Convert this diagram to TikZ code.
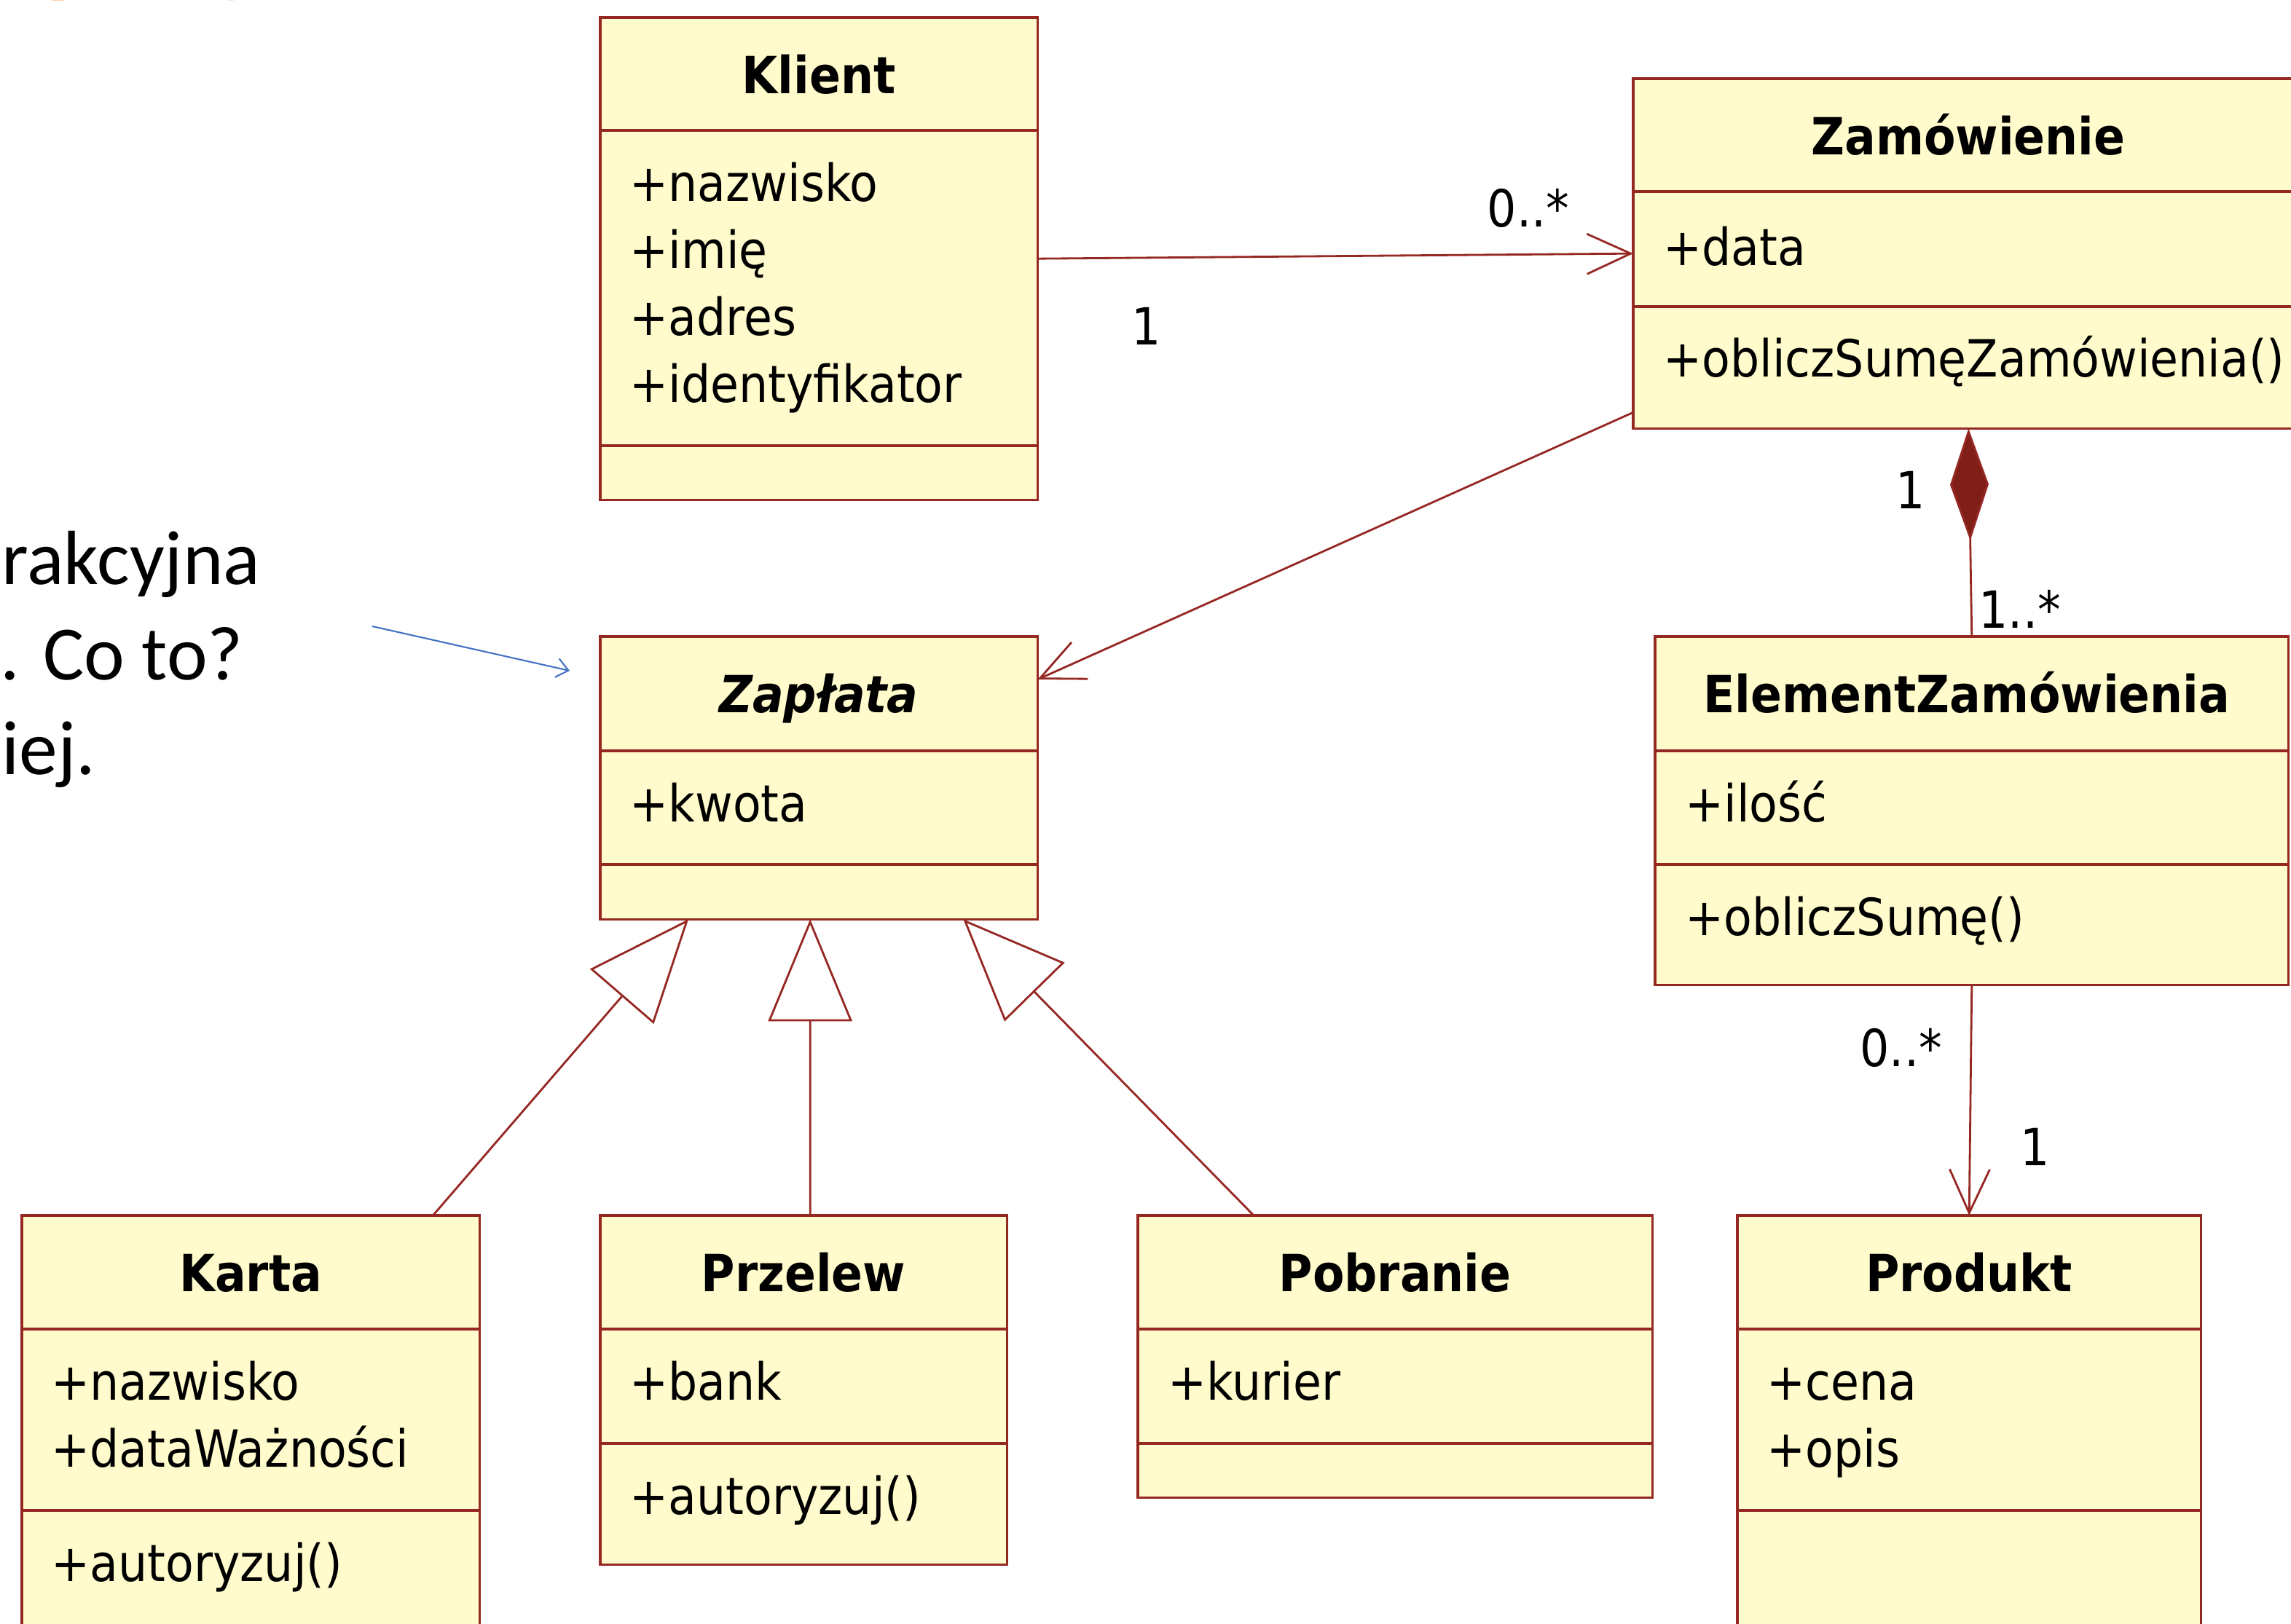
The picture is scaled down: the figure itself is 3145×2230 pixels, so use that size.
\documentclass[tikz,border=0pt]{standalone}
\usepackage{fontspec}
\usetikzlibrary{arrows.meta}
\newfontfamily\umlfont[FakeStretch=0.9]{DejaVu Sans}
\newfontfamily\slajdfont{Carlito}
\definecolor{umlred}{RGB}{150,40,35}
\definecolor{umlfill}{RGB}{255,251,204}
\definecolor{diamred}{RGB}{128,30,24}
\definecolor{slajdblue}{RGB}{68,114,196}
\definecolor{slajdorange}{RGB}{228,108,10}

\begin{document}
\begin{tikzpicture}[x=0.01cm, y=-0.01cm,
    klasa/.style={draw=umlred, fill=umlfill, line width=0.9pt, anchor=north west, inner sep=0pt, outer sep=0pt},
    ramka/.style={draw=umlred, line width=0.9pt},
    tytul/.style={font=\umlfont\bfseries\fontsize{20}{24}\selectfont, anchor=base, inner sep=0pt},
    pole/.style={font=\umlfont\fontsize{20}{24}\selectfont, anchor=base west, inner sep=0pt},
    krotnosc/.style={font=\umlfont\fontsize{20}{24}\selectfont, anchor=base, inner sep=0pt},
    slajd/.style={font=\slajdfont\fontsize{30}{36}\selectfont, anchor=base west, inner sep=0pt},
    naglowek/.style={font=\slajdfont\bfseries\fontsize{44}{50}\selectfont, text=slajdorange, anchor=base west, inner sep=0pt},
    asoc/.style={draw=umlred, line width=0.8pt},
    nav/.style={asoc, -{Straight Barb[length=0.6cm, width=0.55cm]}},
    gen/.style={asoc, -{Triangle[open, length=1.4cm, width=1.15cm]}},
    kompoz/.style={asoc, -{Diamond[length=1.54cm, width=0.53cm, fill=diamred]}}]
      \useasboundingbox (0,0) rectangle (3145,2230);
      \clip (0,0) rectangle (3145,2230);
      \fill[white] (0,0) rectangle (3145,2230);
      % Slide text cut at the borders
      \node[naglowek] (tyt1) at (57,-23) {y};
      \node[naglowek] (tyt2) at (282,-25) {g};
      \node[slajd] (opis1) at (2,802) {rakcyjna};
      \node[slajd] (opis2) at (0,933) {. Co to?};
      \node[slajd] (opis3) at (2,1063) {iej.};
      \coordinate (notkaA) at (511,860);
      \coordinate (notkaB) at (782,921);
      \draw[slajdblue, line width=0.6pt, -{Straight Barb[length=1.6mm, width=2.6mm]}] (notkaA) -- (notkaB);
      % Klient
      \node[klasa, minimum width=6cm, minimum height=6.62cm] (klient) at (824,24) {};
      \draw[ramka] (klient.west |- 0,179) -- (klient.east |- 0,179);
      \draw[ramka] (klient.west |- 0,612) -- (klient.east |- 0,612);
      \node[tytul] (klientT) at (1124,128) {Klient};
      \node[pole] (klientA1) at (864,276) {+nazwisko};
      \node[pole] (klientA2) at (864,368) {+imię};
      \node[pole] (klientA3) at (864,460) {+adres};
      \node[pole] (klientA4) at (864,552) {+identyfikator};
      % Zamowienie
      \node[klasa, minimum width=9.2cm, minimum height=4.8cm] (zam) at (2242,108) {};
      \draw[ramka] (zam.west |- 0,263) -- (zam.east |- 0,263);
      \draw[ramka] (zam.west |- 0,421) -- (zam.east |- 0,421);
      \node[tytul] (zamT) at (2702,212) {Zamówienie};
      \node[pole] (zamA1) at (2283,364) {+data};
      \node[pole] (zamO1) at (2283,517) {+obliczSumęZamówienia()};
      % ElementZamowienia
      \node[klasa, minimum width=8.69cm, minimum height=4.78cm] (elem) at (2272,874) {};
      \draw[ramka] (elem.west |- 0,1031) -- (elem.east |- 0,1031);
      \draw[ramka] (elem.west |- 0,1187) -- (elem.east |- 0,1187);
      \node[tytul] (elemT) at (2700,978) {ElementZamówienia};
      \node[pole] (elemA1) at (2313,1128) {+ilość};
      \node[pole] (elemO1) at (2313,1284) {+obliczSumę()};
      % Zaplata (abstract)
      \node[klasa, minimum width=6cm, minimum height=3.88cm] (zaplata) at (824,874) {};
      \draw[ramka] (zaplata.west |- 0,1031) -- (zaplata.east |- 0,1031);
      \draw[ramka] (zaplata.west |- 0,1187) -- (zaplata.east |- 0,1187);
      \node[tytul, font=\umlfont\bfseries\itshape\fontsize{20}{24}\selectfont] (zaplataT) at (1124,978) {Zapłata};
      \node[pole] (zaplataA1) at (864,1128) {+kwota};
      % Karta
      \node[klasa, minimum width=6.28cm, minimum height=6cm] (karta) at (30,1669) {};
      \draw[ramka] (karta.west |- 0,1825) -- (karta.east |- 0,1825);
      \draw[ramka] (karta.west |- 0,2074) -- (karta.east |- 0,2074);
      \node[tytul] (kartaT) at (344,1773) {Karta};
      \node[pole] (kartaA1) at (70,1922) {+nazwisko};
      \node[pole] (kartaA2) at (70,2014) {+dataWażności};
      \node[pole] (kartaO1) at (70,2171) {+autoryzuj()};
      % Przelew
      \node[klasa, minimum width=5.58cm, minimum height=4.79cm] (przelew) at (824,1669) {};
      \draw[ramka] (przelew.west |- 0,1825) -- (przelew.east |- 0,1825);
      \draw[ramka] (przelew.west |- 0,1982) -- (przelew.east |- 0,1982);
      \node[tytul] (przelewT) at (1103,1773) {Przelew};
      \node[pole] (przelewA1) at (864,1922) {+bank};
      \node[pole] (przelewO1) at (864,2079) {+autoryzuj()};
      % Pobranie
      \node[klasa, minimum width=7.06cm, minimum height=3.87cm] (pobranie) at (1562,1669) {};
      \draw[ramka] (pobranie.west |- 0,1825) -- (pobranie.east |- 0,1825);
      \draw[ramka] (pobranie.west |- 0,1982) -- (pobranie.east |- 0,1982);
      \node[tytul] (pobranieT) at (1915,1773) {Pobranie};
      \node[pole] (pobranieA1) at (1603,1922) {+kurier};
      % Produkt
      \node[klasa, minimum width=6.36cm, minimum height=6cm] (produkt) at (2385,1669) {};
      \draw[ramka] (produkt.west |- 0,1825) -- (produkt.east |- 0,1825);
      \draw[ramka] (produkt.west |- 0,2074) -- (produkt.east |- 0,2074);
      \node[tytul] (produktT) at (2703,1773) {Produkt};
      \node[pole] (produktA1) at (2425,1922) {+cena};
      \node[pole] (produktA2) at (2425,2014) {+opis};
      % Associations
      \draw[nav] (klient.east) -- (zam.west);
      \node[krotnosc] (m1) at (2098,311) {0..*};
      \node[krotnosc] (m2) at (1574,473) {1};
      \draw[nav] ([yshift=-2.18cm]zam.west) -- ([yshift=-0.59cm]zaplata.north east);
      \draw[kompoz] (elem.north) -- (zam.south);
      \node[krotnosc] (m3) at (2623,698) {1};
      \node[krotnosc, anchor=base west] (m4) at (2716,862) {1..*};
      \draw[nav] (elem.south) -- (produkt.north);
      \node[krotnosc, anchor=base west] (m5) at (2553,1464) {0..*};
      \node[krotnosc] (m6) at (2794,1600) {1};
      % Generalizations
      \draw[gen] ([xshift=2.5cm]karta.north) -- ([xshift=-1.79cm]zaplata.south);
      \draw[gen] ([xshift=0.09cm]przelew.north) -- ([xshift=-0.12cm]zaplata.south);
      \draw[gen] ([xshift=-1.94cm]pobranie.north) -- ([xshift=1.98cm]zaplata.south);
\end{tikzpicture}
\end{document}
